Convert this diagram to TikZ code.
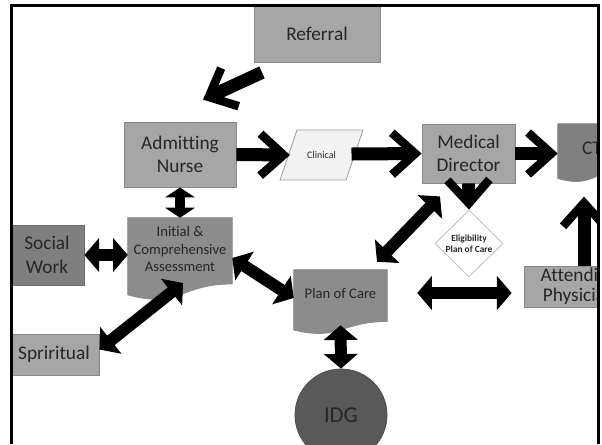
\documentclass[tikz,border=0pt]{standalone}
\usepackage{fontspec}
\setmainfont{Carlito}[Ligatures={NoCommon}]
\usetikzlibrary{arrows.meta,calc,shapes.geometric}

\definecolor{boxlight}{HTML}{A6A6A6}
\definecolor{boxmid}{HTML}{8C8C8C}
\definecolor{boxdark}{HTML}{7F7F7F}
\definecolor{ctgray}{HTML}{808080}
\definecolor{idggray}{HTML}{595959}
\definecolor{edgegray}{HTML}{8A8A8A}
\definecolor{inkgray}{HTML}{262626}
\definecolor{paper}{HTML}{F2F2F2}

\tikzset{
  box/.style={draw=edgegray, line width=0.6pt, fill=boxlight, inner sep=0pt,
    align=center, text=inkgray, font=\fontsize{14.5}{17.5}\selectfont},
  docbox/.style={inner sep=0pt, draw=none},
  docfill/.style={draw=edgegray, line width=0.6pt},
  doctext/.style={align=center, text=inkgray, inner sep=0pt,
    font=\fontsize{11}{13}\selectfont},
  shaftline/.style={line width=9.75pt, black, line cap=butt},
  barbline/.style={line width=6.4pt, black, line join=miter, line cap=butt},
  dbl/.style={line width=9pt, black,
    arrows={Triangle[length=11pt,width=25pt]-Triangle[length=11pt,width=25pt]}},
  shortdbl/.style={line width=8pt, black,
    arrows={Triangle[length=7.5pt,width=22pt]-Triangle[length=7.5pt,width=22pt]}},
}

% thick shaft ending in an open chevron head: #1 tail, #2 tip
\newcommand\chevarrow[2]{%
  \draw[shaftline] (#1) -- ($(#2)!6.75pt!(#1)$);
  \coordinate (chevV) at ($(#2)!4.8pt!(#1)$);
  \draw[barbline] ($(chevV)!23.5pt!42:(#1)$) -- (chevV) -- ($(chevV)!23.5pt!-42:(#1)$);
}

% flowchart document outline over the rectangle of node #1, filled with #2
\newcommand\docshape[2]{%
  \draw[docfill, fill=#2] (#1.north west) -- (#1.north east)
    -- ($(#1.north east)!0.802!(#1.south east)$)
    .. controls ($(#1.north)!0.802!(#1.south)$) and ($(#1.north)!1.107!(#1.south)$)
    .. ($(#1.north west)!0.934!(#1.south west)$) -- cycle;
}

\begin{document}
\begin{tikzpicture}[x=0.75pt, y=-0.75pt]
\useasboundingbox (0,0) rectangle (602,444);

\begin{scope}
\clip (11.5,5) rectangle (598.5,444);

% boxes
\node[box, minimum width=94.5pt, minimum height=42pt] (ref) at (317,34) {Referral};
\node[box, minimum width=84pt, minimum height=48.75pt] (an) at (180,154.5) {Admitting\\Nurse};
\node[box, minimum width=69.75pt, minimum height=44.25pt] (md) at (468.5,153.5) {Medical\\Director};
\node[box, fill=boxdark, draw=boxdark!85!black, minimum width=55.5pt, minimum height=45pt] (soc) at (47,255) {Social\\Work};
\node[box, minimum width=67.5pt, minimum height=30.75pt] (spir) at (54,354.5) {Spriritual};
\node[box, minimum width=82.5pt, minimum height=30.75pt,
  font=\fontsize{14.5}{15}\selectfont] (att) at (579,286.5) {Attending\\Physician};

% clinical data (parallelogram)
\node[inner sep=0pt, text=inkgray, font=\fontsize{7.5}{9}\selectfont] (clin) at (321.5,155) {\phantom{Clinical}};
\draw[draw=edgegray!85, line width=0.6pt, fill=paper]
  ([shift={(-41.5,25)}]clin.center) -- ([shift={(-24.5,-25)}]clin.center)
  -- ([shift={(41.5,-25)}]clin.center) -- ([shift={(24.5,25)}]clin.center) -- cycle;
\node[inner sep=0pt, text=inkgray, font=\fontsize{7.5}{9}\selectfont] (clintext) at (clin) {Clinical};

% documents
\node[docbox, minimum width=78pt, minimum height=61.5pt] (init) at (180,259) {};
\docshape{init}{boxmid}
\node[doctext] (inittext) at ([shift={(0,-10)}]init.center) {Initial \&\\Comprehensive\\Assessment};

\node[docbox, minimum width=69.75pt, minimum height=48pt] (plan) at (340.5,302) {};
\docshape{plan}{boxmid}
\node[doctext] (plantext) at ([shift={(0,-9)}]plan.center) {Plan of Care};

\node[docbox, minimum width=51pt, minimum height=43.5pt] (ct) at (592,153) {};
\docshape{ct}{ctgray}
\node[doctext, font=\fontsize{14.5}{17.5}\selectfont] (cttext) at ([shift={(0,-5)}]ct.center) {CT};

% eligibility decision
\node[shape=diamond, draw=gray!50, line width=0.6pt, fill=white, inner sep=0pt,
  minimum width=51pt, minimum height=50.25pt] (elig) at (469,243.5) {};
\node[align=center, inner sep=0pt, text=inkgray,
  font=\bfseries\fontsize{7}{8.3}\selectfont] (eligtext) at (elig.center) {Eligibility\\Plan of Care};

% interdisciplinary group
\node[circle, fill=idggray, draw=idggray!85!black, line width=0.6pt, minimum size=69pt,
  inner sep=0pt, text=inkgray, font=\fontsize{17}{20}\selectfont] (idg) at (341,415) {IDG};

% one-way flow
\coordinate (refout) at ([shift={(-55,10)}]ref.south);
\coordinate (anin) at ([shift={(23,-22)}]an.north);
\chevarrow{refout}{anin}
\coordinate (clinin) at ([shift={(-31.5,0)}]clin.center);
\chevarrow{an.east}{clinin}
\coordinate (clinout) at ([shift={(30,-1)}]clin.center);
\chevarrow{clinout}{md.west}
\coordinate (ctin) at (md.east -| ct.west);
\chevarrow{md.east}{ctin}
\chevarrow{md.south}{elig.north}
\coordinate (attout) at ([shift={(5,0)}]att.north);
\coordinate (ctbelow) at ([shift={(5,-69)}]att.north);
\chevarrow{attout}{ctbelow}

% two-way exchanges
\draw[shortdbl] (an.south) -- (init.north);
\draw[dbl] (soc.east) -- (soc.east -| init.west);
\draw[dbl] ([shift={(3,24)}]init.center) -- ([shift={(0,-5)}]spir.east);
\draw[dbl] ([shift={(0,-1)}]init.east) -- ([shift={(0,-4)}]plan.west);
\draw[dbl] ([shift={(36.5,-8)}]plan.north) -- ([shift={(-28.5,13)}]md.south);
\draw[dbl] ([shift={(30,-9)}]plan.east) -- ([shift={(-12,6.5)}]att.west);
\draw[dbl] ([shift={(0,-9)}]plan.south) -- (idg.north);
\end{scope}

% frame
\draw[line width=2.25pt] (11.5,444) -- (11.5,5) -- (598.5,5) -- (598.5,444);
\end{tikzpicture}
\end{document}
